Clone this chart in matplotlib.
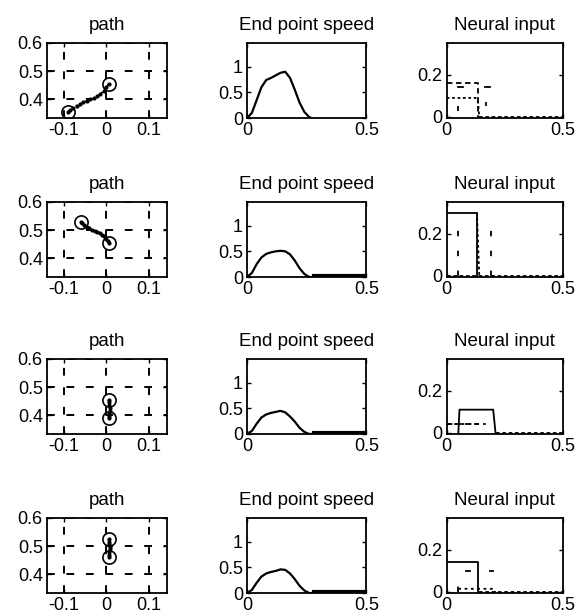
import numpy as np
import matplotlib
matplotlib.use("Agg")
import matplotlib.pyplot as plt

plt.rcParams['font.family'] = ['Liberation Sans', 'DejaVu Sans']
plt.rcParams['font.size'] = 13

# --- path panels: hand trajectory (x, y) per row ---
path_x = [
    [-0.09, -0.085, -0.078, -0.07, -0.062, -0.054, -0.046, -0.038, -0.03, -0.022, -0.014, -0.006, 0.0, 0.005],
    [-0.06, -0.057, -0.052, -0.046, -0.04, -0.034, -0.028, -0.022, -0.016, -0.01, -0.005, 0.0, 0.003, 0.005],
    [0.005, 0.006, 0.007, 0.008, 0.008, 0.007, 0.006, 0.005],
    [0.005, 0.006, 0.007, 0.008, 0.008, 0.007, 0.006, 0.005],
]
path_y = [
    [0.355, 0.362, 0.37, 0.377, 0.383, 0.389, 0.394, 0.399, 0.404, 0.41, 0.418, 0.43, 0.443, 0.455],
    [0.53, 0.525, 0.518, 0.512, 0.506, 0.501, 0.497, 0.493, 0.489, 0.484, 0.478, 0.47, 0.462, 0.455],
    [0.455, 0.445, 0.435, 0.425, 0.415, 0.405, 0.397, 0.39],
    [0.525, 0.515, 0.506, 0.497, 0.488, 0.478, 0.469, 0.46],
]

# --- end point speed per row ---
speed_t = [0.0, 0.02, 0.04, 0.06, 0.08, 0.10, 0.12, 0.14, 0.16, 0.18, 0.20, 0.22, 0.24, 0.26, 0.27]
speed_v = [
    [0.0, 0.1, 0.35, 0.6, 0.74, 0.78, 0.83, 0.88, 0.9, 0.78, 0.55, 0.3, 0.12, 0.02, 0.0],
    [0.0, 0.08, 0.25, 0.38, 0.45, 0.48, 0.5, 0.51, 0.5, 0.44, 0.32, 0.17, 0.06, 0.0, 0.0],
    [0.0, 0.06, 0.2, 0.32, 0.38, 0.41, 0.43, 0.45, 0.42, 0.34, 0.24, 0.12, 0.04, 0.0, 0.0],
    [0.0, 0.06, 0.2, 0.32, 0.38, 0.41, 0.43, 0.46, 0.45, 0.38, 0.27, 0.14, 0.05, 0.0, 0.0],
]
rest_t = [0.28, 0.5]
rest_v = [None, 0.02, 0.02, 0.02]

# --- neural input: step inputs (x, y) per row, with line styles ---
neural = [
    [([0, 0.135, 0.135], [0.16, 0.16, 0.0], (0, (3, 2))),
     ([0, 0.125, 0.135, 0.14], [0.09, 0.09, 0.07, 0.0], (0, (1.5, 1.5))),
     ([0.14, 0.5], [0.0, 0.0], (0, (2, 1.5)))],
    [([0, 0.13, 0.13], [0.3, 0.3, 0.0], '-'),
     ([0.13, 0.14], [0.3, 0.0], (0, (1.5, 1.5))),
     ([0, 0.5], [0.0, 0.0], (0, (2, 1.5)))],
    [([0.05, 0.055, 0.2, 0.21], [0.0, 0.11, 0.11, 0.0], '-'),
     ([0, 0.14], [0.04, 0.04], (0, (3, 2))),
     ([0, 0.18], [0.04, 0.04], (0, (1.5, 2.5))),
     ([0.21, 0.5], [0.0, 0.0], (0, (2, 1.5)))],
    [([0, 0.135, 0.135], [0.14, 0.14, 0.0], '-'),
     ([0.05, 0.2, 0.21], [0.015, 0.015, 0.0], (0, (1.5, 2))),
     ([0.14, 0.5], [0.0, 0.0], (0, (2, 1.5)))],
]
# sparse dash-dot marks (x, y0, y1) per row
sparse_v = [
    [(0.05, 0.03, 0.05), (0.17, 0.05, 0.07)],
    [(0.05, 0.0, 0.27), (0.19, 0.0, 0.27)],
    [],
    [(0.05, 0.0, 0.04)],
]
sparse_h = [
    [(0.05, 0.07, 0.14), (0.165, 0.185, 0.14)],
    [],
    [],
    [(0.085, 0.1, 0.1), (0.185, 0.2, 0.1)],
]

fig = plt.figure(figsize=(5.87, 6.16), dpi=100)
lefts = [0.080, 0.421, 0.761]
widths = [0.204, 0.203, 0.198]
bottoms = [0.8084, 0.5503, 0.2955, 0.0373]
height = 0.1218
title_size = 13.5


def style(ax):
    ax.tick_params(direction='in', length=3, width=1, top=True, right=True, pad=3)
    for s in ax.spines.values():
        s.set_linewidth(1.3)


for r in range(4):
    # path
    ax = fig.add_axes([lefts[0], bottoms[r], widths[0], height])
    ax.plot(path_x[r], path_y[r], color='k', ls=':', lw=1.3, marker='o', ms=2)
    ax.plot([path_x[r][0], path_x[r][-1]], [path_y[r][0], path_y[r][-1]], 'o',
            mfc='none', mec='k', ms=9.5, mew=1.2)
    ax.set_xlim(-0.14, 0.142)
    ax.set_ylim(0.333, 0.6)
    ax.set_xticks([-0.1, 0, 0.1])
    ax.set_xticklabels(['-0.1', '0', '0.1'])
    ax.set_yticks([0.4, 0.5, 0.6])
    ax.grid(True, color='k', ls=(0, (4, 6)), lw=1.4)
    ax.set_title('path', fontsize=title_size, pad=9)
    style(ax)

    # speed
    ax = fig.add_axes([lefts[1], bottoms[r], widths[1], height])
    ax.plot(speed_t, speed_v[r], color='k', lw=1.6)
    if rest_v[r] is not None:
        ax.plot(rest_t, [rest_v[r]] * 2, color='k', lw=3)
    ax.set_xlim(0, 0.5)
    ax.set_ylim(0, 1.46)
    ax.set_xticks([0, 0.5])
    ax.set_xticklabels(['0', '0.5'])
    ax.set_yticks([0, 0.5, 1])
    ax.set_yticklabels(['0', '0.5', '1'])
    ax.set_title('End point speed', fontsize=title_size, pad=9)
    style(ax)

    # neural input
    ax = fig.add_axes([lefts[2], bottoms[r], widths[2], height])
    for xs, ys, ls in neural[r]:
        ax.plot(xs, ys, color='k', ls=ls, lw=1.3)
    for x, y0, y1 in sparse_v[r]:
        ax.plot([x, x], [y0, y1], color='k', ls=(0, (3, 8)), lw=1.3)
    for x0, x1, y in sparse_h[r]:
        ax.plot([x0, x1], [y, y], color='k', lw=1.3)
    ax.set_xlim(0, 0.5)
    ax.set_ylim(-0.005, 0.35)
    ax.set_xticks([0, 0.5])
    ax.set_xticklabels(['0', '0.5'])
    ax.set_yticks([0, 0.2])
    ax.set_yticklabels(['0', '0.2'])
    ax.set_title('Neural input', fontsize=title_size, pad=9)
    style(ax)

fig.savefig('out.png', dpi=100)
